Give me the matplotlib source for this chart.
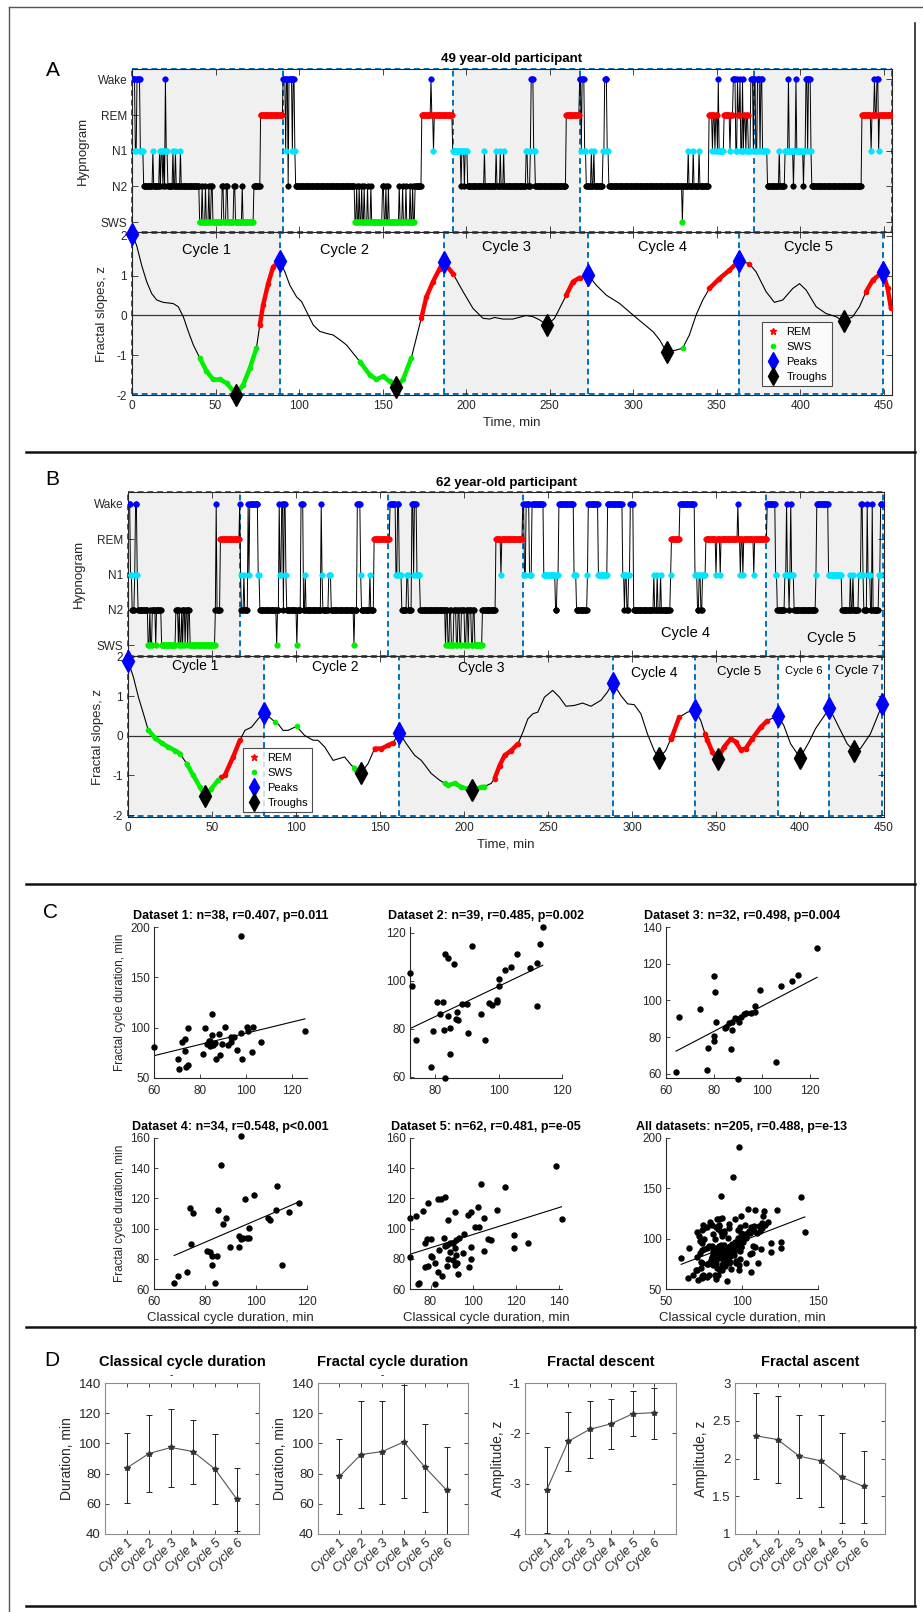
"""
Hypnograms, fractal-slope cycles and cycle statistics (4-panel figure)
"""
import matplotlib
matplotlib.use('Agg')
import matplotlib.pyplot as plt
import matplotlib.font_manager as fm
from matplotlib.patches import Rectangle
from matplotlib.lines import Line2D
import numpy as np

names = {f.name for f in fm.fontManager.ttflist}
NARROW = 'Liberation Sans Narrow' if 'Liberation Sans Narrow' in names else 'Liberation Sans'
REG = 'Liberation Sans'
plt.rcParams['font.family'] = [NARROW, 'DejaVu Sans']
plt.rcParams['axes.unicode_minus'] = False
TXT = '#262626'

# ---------------- data: panel A (49 year-old) ----------------
# hypnogram as (start minute, stage)
hyp_a = [(0, 'W'), (2, 'N1'), (3, 'W'), (5, 'N1'), (7, 'N2'), (12.5, 'N1'), (13, 'N2'), (16.5, 'N1'),
         (17, 'N2'), (17.5, 'N1'), (18.5, 'N2'), (19, 'N1'), (19.5, 'N2'), (20, 'W'), (20.5, 'N1'),
         (21.5, 'N2'), (24.5, 'N1'), (25, 'N2'), (26, 'N1'), (26.5, 'N2'), (29, 'N1'), (29.5, 'N2'),
         (40.5, 'S'), (42, 'N2'), (42.5, 'S'), (44, 'N2'), (44.5, 'S'), (46, 'N2'), (46.5, 'S'),
         (47.5, 'N2'), (48.5, 'S'), (54, 'N2'), (55, 'S'), (56.5, 'N2'), (57.5, 'S'), (61, 'N2'),
         (62, 'S'), (66, 'N2'), (66.5, 'S'), (73, 'N2'), (77, 'R'),
         (90.5, 'W'), (92, 'N1'), (92.5, 'W'), (93.5, 'N2'), (94, 'W'), (96, 'N1'), (96.5, 'W'),
         (97.5, 'N1'), (98, 'N2'),
         (133.5, 'S'), (134.5, 'N2'), (135, 'S'), (136, 'N2'), (136.5, 'S'), (137.5, 'N2'), (138, 'S'),
         (139, 'N2'), (139.5, 'S'), (141, 'N2'), (141.5, 'S'), (143, 'N2'), (143.5, 'S'), (150, 'N2'),
         (151, 'S'), (152, 'N2'), (152.5, 'S'), (153.5, 'N2'), (154, 'S'), (160, 'N2'), (160.5, 'S'),
         (162, 'N2'), (162.5, 'S'), (164, 'N2'), (164.5, 'S'), (166.5, 'N2'), (167, 'S'), (168, 'N2'),
         (168.5, 'S'), (169.5, 'N2'),
         (173.5, 'R'), (179, 'W'), (179.5, 'R'), (180.5, 'N1'), (181, 'R'), (192, 'N1'), (197, 'N2'),
         (197.5, 'N1'), (199, 'N2'), (199.5, 'N1'), (201, 'N2'), (211, 'N1'), (211.5, 'N2'),
         (218, 'N1'), (218.5, 'N2'), (220.5, 'N1'), (221, 'N2'), (222.5, 'N1'), (223, 'N2'),
         (236, 'N1'), (237, 'N2'), (238.5, 'N1'), (239, 'W'), (240.5, 'N1'), (241.5, 'N2'), (260, 'R'),
         (268, 'W'), (269, 'N1'), (269.5, 'W'), (271, 'N1'), (272, 'N2'), (275, 'N1'), (275.5, 'N2'),
         (276.5, 'N1'), (277, 'N2'), (282, 'N1'), (283, 'W'), (284.5, 'N1'), (285.5, 'N2'),
         (329.5, 'S'), (330, 'N2'), (333, 'N1'), (333.5, 'N2'), (336, 'N1'), (336.5, 'N2'),
         (339.5, 'N1'), (340, 'N2'),
         (345.5, 'R'), (347.5, 'N1'), (348, 'R'), (349, 'N1'), (349.5, 'R'), (350.5, 'N1'), (351, 'W'),
         (351.5, 'N1'), (354.5, 'R'), (358, 'N1'), (358.5, 'R'), (360, 'W'), (361.5, 'N1'), (362.5, 'W'),
         (363, 'R'), (364, 'W'), (364.5, 'N1'), (365.5, 'W'), (366, 'N1'), (366.5, 'R'), (367.5, 'N1'),
         (368, 'R'), (369, 'N1'), (370.5, 'W'), (372, 'N1'), (372.5, 'W'), (373.5, 'N1'), (374.5, 'W'),
         (376, 'N1'), (376.5, 'W'), (377.5, 'N1'),
         (380.5, 'N2'), (387.5, 'N1'), (388, 'N2'), (391, 'N1'), (393, 'W'), (393.5, 'N1'), (396, 'N2'),
         (396.5, 'N1'), (397.5, 'W'), (398, 'N1'), (402, 'N2'), (402.5, 'N1'), (403.5, 'W'),
         (404.5, 'N1'), (405, 'W'), (406.5, 'N1'), (407, 'N2'),
         (437, 'R'), (442.5, 'N1'), (443, 'R'), (444.5, 'W'), (445, 'R'), (446, 'W'), (447, 'N1'),
         (447.5, 'R')]
hyp_a_end = 455
hyp_a_cycles = [0, 90.5, 192.3, 268, 372.6, 455]

# fractal slope curve as (minute, z)
curve_a = [(0, 2.05), (2.8, 1.76), (5.8, 1.26), (8.8, 0.85), (11.8, 0.55), (14.8, 0.39), (18.7, 0.33),
           (24.7, 0.30), (27.7, 0.22), (30.7, -0.03), (33.7, -0.40), (36.7, -0.74), (40.6, -1.07),
           (44.6, -1.40), (48.6, -1.61), (52.6, -1.61), (56.6, -1.70), (62.5, -1.99), (66.6, -1.74),
           (70.6, -1.32), (74.5, -0.82), (76.5, -0.24), (78.5, 0.26), (81.5, 0.80), (84.5, 1.22),
           (88.5, 1.38), (91.5, 1.10), (94.5, 0.76), (98.5, 0.47), (101.5, 0.35), (104.5, 0.10),
           (108.5, -0.24), (112.4, -0.40), (116.4, -0.45), (120.4, -0.49), (124.4, -0.61),
           (128.4, -0.74), (132.4, -0.95), (136.4, -1.16), (142.3, -1.49), (146.3, -1.61),
           (150.3, -1.53), (154.3, -1.66), (158, -1.80), (162.3, -1.61), (167.2, -1.07),
           (170.2, -0.57), (173.2, -0.07), (176.2, 0.46), (180.2, 0.85), (184.2, 1.18), (186.5, 1.35),
           (192.2, 1.05), (198.2, 0.60), (204.1, 0.18), (210.1, -0.07), (214.1, -0.09), (217.1, -0.05),
           (222, -0.09), (228, -0.09), (236, 0.0), (240, -0.03), (244, -0.11), (248.5, -0.24),
           (253, -0.07), (256, 0.18), (260, 0.51), (264, 0.85), (268, 0.95), (273, 1.02), (278, 0.76),
           (284, 0.51), (292, 0.30), (300, 0.01), (306, -0.20), (312, -0.41), (316, -0.62),
           (320, -0.92), (325.7, -0.87), (329.7, -0.82), (333.7, -0.49), (337.7, 0.01), (341.7, 0.39),
           (345.7, 0.68), (351.7, 0.93), (357.7, 1.14), (363.5, 1.38), (369.6, 1.30), (373.6, 1.10),
           (379.6, 0.60), (384.6, 0.33), (389.6, 0.39), (395.6, 0.68), (399.6, 0.80), (403.6, 0.64),
           (409.6, 0.22), (415.5, 0.05), (421.5, -0.03), (426, -0.15), (431.5, -0.03), (435.5, 0.22),
           (439.5, 0.60), (443.5, 0.89), (449.5, 1.10), (452.4, 0.68), (454.4, 0.18)]
rem_a = [(76.5, 88.5), (173.2, 192.2), (259, 268), (345, 363.5), (369.6, 369.6), (438, 455)]
sws_a = [(40.5, 74.5), (133, 169), (329.7, 329.7)]
peaks_a = [(0, 2.05), (88.5, 1.38), (186.5, 1.35), (273, 1.02), (363.5, 1.38), (449.5, 1.10)]
troughs_a = [(62.5, -2.0), (158, -1.80), (248.5, -0.24), (320, -0.92), (426, -0.15)]
cycle_lbl_a = [('Cycle 1', 44.5, 1.64), ('Cycle 2', 127, 1.64), ('Cycle 3', 224, 1.72),
               ('Cycle 4', 317.5, 1.72), ('Cycle 5', 405, 1.72)]

# ---------------- data: panel B (62 year-old) ----------------
hyp_b = [(0, 'W'), (1.5, 'N1'), (2.5, 'N2'), (4, 'N1'), (4.5, 'W'), (5.5, 'N1'), (6, 'N2'), (12, 'S'),
         (13, 'N2'), (13.5, 'S'), (14.5, 'N2'), (16.5, 'S'), (17, 'N2'), (20, 'S'), (28.5, 'N2'),
         (30, 'S'), (30.5, 'N2'), (31, 'S'), (32, 'N2'), (32.5, 'S'), (33, 'N2'), (34, 'S'),
         (34.5, 'N2'), (35.5, 'S'), (36, 'N2'), (37, 'S'), (52, 'N2'), (52.5, 'W'), (53, 'N2'), (55, 'R'),
         (66.5, 'W'), (67, 'N1'), (67.5, 'N2'), (69, 'N1'), (69.5, 'N2'), (71.5, 'W'), (72, 'N1'),
         (72.5, 'W'), (77.5, 'N1'), (78.5, 'N2'), (88.5, 'S'), (89, 'N2'), (90, 'W'), (90.5, 'N1'),
         (91.5, 'W'), (92.5, 'N2'), (93, 'W'), (94, 'N1'), (94.5, 'N2'), (100.5, 'S'), (101, 'N2'),
         (103, 'W'), (104.5, 'N2'), (105.5, 'N1'), (106, 'N2'), (115, 'W'), (115.5, 'N1'), (116, 'N2'),
         (119.5, 'N1'), (121, 'N2'), (134.5, 'S'), (135, 'N2'), (136.5, 'W'), (138.5, 'N1'), (139, 'N2'),
         (144, 'N1'), (144.5, 'N2'), (146.5, 'R'),
         (156, 'W'), (159.5, 'N1'), (160.5, 'W'), (161.5, 'N1'), (163, 'N2'), (166, 'N1'), (167, 'N2'),
         (169, 'W'), (170, 'N1'), (170.5, 'W'), (172, 'N1'), (174, 'N2'), (189, 'S'), (189.5, 'N2'),
         (190.5, 'S'), (191.5, 'N2'), (192.5, 'S'), (194, 'N2'), (195.5, 'S'), (196.5, 'N2'),
         (197.5, 'S'), (198.5, 'N2'), (200.5, 'S'), (201.5, 'N2'), (202.5, 'S'), (203, 'N2'),
         (204.5, 'S'), (205.5, 'N2'), (206.5, 'S'), (211, 'N2'), (219, 'R'), (222, 'N1'), (222.5, 'R'),
         (235, 'W'), (236, 'N1'), (237, 'W'), (239, 'N1'), (240.5, 'W'), (247.5, 'N1'), (254.5, 'N2'),
         (255.5, 'N1'), (256.5, 'W'), (265.5, 'N1'), (267, 'N2'), (273.5, 'N1'), (274, 'W'), (280, 'N1'),
         (285.5, 'W'), (294.5, 'N1'), (295.5, 'N2'), (296, 'N1'), (297, 'N2'), (298, 'N1'), (299, 'W'),
         (301, 'N2'), (313, 'N1'), (313.5, 'N2'), (315, 'N1'), (315.5, 'N2'), (317, 'N1'), (317.5, 'N2'),
         (323, 'N1'), (323.5, 'R'), (328.5, 'W'), (337.5, 'N1'), (339, 'N2'), (340, 'N1'), (341, 'N2'),
         (342, 'N1'), (344, 'R'), (350, 'N1'), (350.5, 'R'), (352.5, 'N1'), (353, 'R'), (363, 'W'),
         (363.5, 'R'), (364.5, 'N1'), (365, 'R'), (366, 'N1'), (366.5, 'R'), (372.5, 'N1'), (373, 'R'),
         (380.5, 'W'), (385.5, 'N1'), (386.5, 'N2'), (391, 'N1'), (392, 'W'), (392.5, 'N1'),
         (393.5, 'N2'), (394, 'N1'), (394.5, 'W'), (395, 'N1'), (396.5, 'N2'), (409.5, 'N1'),
         (410, 'W'), (417, 'N1'), (425, 'N2'), (430, 'N1'), (430.5, 'N2'), (431.5, 'N1'), (432, 'N2'),
         (435, 'N1'), (436.5, 'W'), (437.5, 'N1'), (438, 'N2'), (440, 'W'), (440.5, 'N1'), (442, 'N2'),
         (443, 'W'), (443.5, 'N2'), (447, 'N1'), (448, 'W')]
hyp_b_end = 449.5
hyp_b_cycles = [0, 66.6, 154.8, 235, 379.7, 449.6]
hyp_b_lbl = [('Cycle 4', 332, 1.33), ('Cycle 5', 419, 1.21)]

curve_b = [(0, 1.90), (3.2, 1.49), (6.2, 0.98), (9.2, 0.56), (12, 0.15), (16.1, -0.05), (20, -0.18),
           (24, -0.28), (28, -0.37), (31, -0.45), (34.9, -0.70), (38.9, -1.0), (42.8, -1.29),
           (46, -1.53), (49.7, -1.33), (53.7, -1.12), (55.6, -1.05), (57.6, -1.0), (62.6, -0.53),
           (66.6, -0.11), (69.6, 0.14), (73.5, 0.22), (77.5, 0.43), (81, 0.58), (85.4, 0.43),
           (87.5, 0.35), (89.4, 0.30), (92.3, 0.14), (95.3, 0.14), (100.3, 0.24), (105.2, 0.01),
           (110.2, -0.11), (113.1, -0.11), (117.1, -0.28), (122.1, -0.62), (128.9, -0.53),
           (132.9, -0.74), (134.6, -0.80), (136, -0.85), (138.5, -0.95), (142.9, -0.70), (146.8, -0.32),
           (150.8, -0.32), (154.8, -0.24), (157.7, -0.18), (161.5, 0.08), (165.7, -0.20), (170.6, -0.49),
           (174.6, -0.62), (180.5, -0.95), (185.5, -1.12), (188.5, -1.20), (190.4, -1.25),
           (194.4, -1.20), (198.4, -1.29), (204.5, -1.37), (210.3, -1.30), (212.2, -1.28),
           (216.2, -1.20), (218.2, -1.08), (221.2, -0.75), (224.2, -0.49), (228.1, -0.37),
           (232.1, -0.20), (235.1, 0.10), (238, 0.43), (241, 0.56), (243.9, 0.60), (247.9, 0.98),
           (252.8, 1.15), (256.8, 0.98), (260.7, 0.75), (265.7, 0.77), (270.6, 0.83), (275.6, 0.75),
           (281.5, 0.90), (285.4, 1.11), (288.5, 1.35), (293.4, 1.02), (297.4, 0.81), (301.3, 0.79),
           (305.3, 0.56), (309.2, 0.05), (313.2, -0.37), (316, -0.57), (320.1, -0.37), (323, -0.08),
           (324.1, 0.01), (328.1, 0.47), (333, 0.60), (337.5, 0.65), (340.9, 0.39), (343.5, 0.05),
           (344.9, -0.11), (347.9, -0.41), (351, -0.58), (354.8, -0.28), (358.8, -0.07),
           (361.7, -0.15), (364.7, -0.35), (367.7, -0.32), (371.6, -0.07), (376.6, 0.22),
           (380.5, 0.38), (381.5, 0.41), (387, 0.50), (390.4, 0.26), (394.4, -0.20), (400, -0.55),
           (405.3, -0.16), (409.2, 0.18), (413.2, 0.43), (417.5, 0.70), (422.1, 0.31), (428.1, -0.20),
           (432, -0.37), (436, -0.32), (441.9, 0.05), (445.9, 0.47), (449, 0.80)]
rem_b = [(55.6, 66.6), (146.8, 157.7), (218, 235), (323, 328.1), (343.5, 380.5)]
sws_b = [(12, 31), (34.9, 53.7), (87.5, 87.5), (100.3, 100.3), (134.6, 136), (188.5, 212.2)]
peaks_b = [(0, 1.90), (81, 0.58), (161.5, 0.08), (288.5, 1.35), (337.5, 0.65), (387, 0.50),
           (417.5, 0.70), (449, 0.80)]
troughs_b = [(46, -1.53), (138.5, -0.95), (204.5, -1.37), (316, -0.57), (351, -0.58), (400, -0.55),
             (432, -0.37)]
cycle_lbl_b = [('Cycle 1', 40, 1.76, 10), ('Cycle 2', 123.5, 1.74, 10), ('Cycle 3', 210, 1.72, 10),
               ('Cycle 4', 313, 1.59, 10), ('Cycle 5', 364, 1.61, 9.5), ('Cycle 6', 402.5, 1.63, 8),
               ('Cycle 7', 434, 1.65, 9.5)]

# ---------------- data: panel C (classical vs fractal cycle duration) ----------------
d1_x = [60, 97.8, 70.5, 71, 72.3, 73.5, 73.3, 73.8, 74.8, 74.8, 81.2, 82.2, 83, 83.7, 84.5, 85, 85,
        84.5, 85.5, 87.1, 88.1, 88.9, 89.4, 91, 92, 93.4, 94.7, 95.9, 97.8, 98.3, 100.3, 100.8, 102.4,
        102.9, 106.7, 125.6, 86.3, 93.4]
d1_y = [80.3, 190.8, 68.8, 59.2, 85.6, 88.6, 77.0, 60.9, 62.5, 100.1, 74.1, 99.4, 84.0, 86.3, 87.2,
        113.3, 92.9, 81.3, 82.9, 69.1, 93.8, 72.4, 83.6, 101.1, 82.3, 85.6, 90.5, 78.0, 94.5, 69.1,
        101.1, 96.8, 75.7, 101.1, 85.6, 97.1, 84.7, 91.2]
d2_x = [72, 72.6, 74, 78.5, 79.4, 80.6, 81.5, 82.4, 82.8, 83.2, 83.2, 84.1, 84.1, 84.7, 84.7, 86, 86.5,
        86.9, 87.1, 88.4, 89.9, 90.2, 91.7, 94.5, 95.8, 97.1, 97.9, 99.5, 99.5, 100.1, 100.1, 102,
        103.8, 105.7, 109.8, 112, 112.2, 113.1, 113.9]
d2_y = [103.1, 97.9, 75.5, 64.2, 79.2, 91.1, 86.1, 91.1, 79.4, 111.2, 59.6, 109.4, 85.5, 80.3, 69.6,
        106.9, 84.2, 87.2, 83.8, 90.3, 90.3, 78.3, 114.5, 86.3, 75.5, 90.7, 90.0, 91.4, 92.1, 97.9,
        100.7, 104.5, 105.9, 111.4, 105.2, 107.6, 89.7, 115.6, 122.5]
d3_x = [64.2, 65.4, 74, 77.2, 77.7, 80.1, 80.1, 80.1, 80.6, 80.9, 84.5, 86.3, 87, 87.5, 87.5, 88.7,
        89.9, 89.9, 90.7, 91.2, 92.4, 93.6, 95.6, 97.3, 97.3, 99.3, 105.9, 107.9, 112.8, 115, 123.1, 85]
d3_y = [61.1, 90.9, 95.4, 62, 74.4, 113.5, 80.4, 78.1, 104.4, 88.2, 84.9, 87.6, 73.7, 84, 88.2, 90.3,
        89.8, 57.5, 88.5, 91.2, 92.7, 93.4, 93, 97.2, 93.6, 105.7, 66.5, 108, 110.7, 113.8, 128.3, 85.8]
d4_x = [94.0, 86.3, 74.2, 75.3, 85.1, 88.1, 87.0, 95.6, 99.1, 108.4, 105.3, 104.9, 97.2, 93.3, 94.0,
        94.9, 96.3, 97.4, 89.8, 93.3, 74.7, 107.9, 113.0, 116.9, 82.0, 82.9, 84.8, 82.9, 73.0, 69.5,
        67.9, 84.1, 110.2, 80.9]
d4_y = [161.1, 142.4, 113.5, 110.2, 112.4, 107.3, 102.9, 119.5, 122.2, 128.0, 105.8, 106.7, 100.6,
        95.1, 93.3, 94.0, 93.6, 94.0, 87.7, 87.7, 90.0, 112.4, 110.7, 116.7, 84.4, 81.7, 82.0, 75.7,
        71.3, 68.9, 64.0, 64.0, 76.2, 85.1]
d5_x = [138.6, 141.3, 70.4, 73.4, 76.7, 78.9, 83.6, 85, 86.9, 88.3, 91.3, 97.3, 98.7, 102, 103.7, 104.8,
        100.6, 102.8, 107, 108.3, 111.1, 114.7, 118.8, 118.8, 125.4, 77.2, 78.4, 80.3, 86.3, 87.7,
        89.1, 90.5, 91.8, 93.2, 95.4, 91.3, 86.9, 70.4, 80, 78.6, 77.2, 80.8, 83.6, 85.5, 74.5, 74,
        82.2, 87.7, 91.3, 91.8, 98.7, 97.9, 92.4, 90.5, 89.1, 84, 95, 99, 82, 88, 93, 105]
d5_y = [141.3, 106.3, 106.7, 108.4, 111.5, 117, 119.4, 119.4, 121, 106, 110.7, 109, 111.2, 114, 129.3,
        107.3, 101.2, 101.2, 93.1, 92.2, 112.6, 127.5, 95.7, 87, 90.3, 90.7, 92.8, 93, 94, 89.2, 90.3,
        90.3, 92.2, 93.7, 96.2, 87, 88.3, 81.5, 81.8, 75.5, 74.8, 81.5, 71, 68.8, 64, 63, 63.5, 75.5,
        76, 82.4, 79.8, 74.3, 77.1, 79.3, 84.7, 86, 84, 88, 77, 80, 70, 85]
scatter_titles = ['Dataset 1: n=38, r=0.407, p=0.011', 'Dataset 2: n=39, r=0.485, p=0.002',
                  'Dataset 3: n=32, r=0.498, p=0.004', 'Dataset 4: n=34, r=0.548, p<0.001',
                  'Dataset 5: n=62, r=0.481, p=e-05', 'All datasets: n=205, r=0.488, p=e-13']

# ---------------- data: panel D (per-cycle mean and error bounds) ----------------
cycle_names = ['Cycle 1', 'Cycle 2', 'Cycle 3', 'Cycle 4', 'Cycle 5', 'Cycle 6']
class_mean = [83.8, 93.3, 97.3, 94.6, 83.0, 62.9]
class_lo = [60.3, 67.5, 71.1, 72.8, 59.6, 42.0]
class_hi = [106.7, 119.1, 123.0, 115.6, 106.0, 83.4]
fdur_mean = [78.1, 92.6, 94.6, 101.0, 84.1, 69.1]
fdur_lo = [53.0, 57.0, 60.0, 63.6, 54.3, 40.0]
fdur_hi = [103.2, 128.1, 128.1, 138.5, 113.1, 97.3]
desc_mean = [-3.13, -2.16, -1.92, -1.81, -1.61, -1.59]
desc_lo = [-3.99, -2.75, -2.49, -2.32, -2.06, -2.11]
desc_hi = [-2.28, -1.575, -1.36, -1.31, -1.16, -1.09]
asc_mean = [2.30, 2.25, 2.03, 1.97, 1.75, 1.63]
asc_lo = [1.73, 1.68, 1.48, 1.36, 1.15, 1.15]
asc_hi = [2.87, 2.83, 2.57, 2.58, 2.34, 2.10]

# ---------------- figure ----------------
W, H = 923, 1612
fig = plt.figure(figsize=(W / 100, H / 100), dpi=100)


def add_ax(l, t, r, b):
    return fig.add_axes([l / W, 1 - b / H, (r - l) / W, (b - t) / H])


def fig_line(x0, y0, x1, y1, lw=1.0, color='k'):
    fig.add_artist(Line2D([x0 / W, x1 / W], [1 - y0 / H, 1 - y1 / H], transform=fig.transFigure,
                          color=color, lw=lw))


STAGE_Y = {'W': 5, 'R': 4, 'N1': 3, 'N2': 2, 'S': 1}
STAGE_C = {'W': '#0000ff', 'R': '#ff0000', 'N1': '#00e5ff', 'N2': '#000000', 'S': '#00ee00'}
BOX_C = '#0072bd'
DASH = (0, (3, 2))


def draw_boxes(ax, edges, y0, y1):
    # grey fill on odd cycles, one dashed outline per cycle boundary
    for i in range(len(edges) - 1):
        if i % 2 == 0:
            ax.add_patch(Rectangle((edges[i], y0), edges[i + 1] - edges[i], y1 - y0,
                                   facecolor='#f0f0f0', edgecolor='none', zorder=1))
    ax.vlines(edges, y0, y1, colors=BOX_C, linestyles=DASH, lw=1.4, zorder=1.5, clip_on=False)
    ax.hlines([y0, y1], edges[0], edges[-1], colors=BOX_C, linestyles=DASH, lw=1.4, zorder=1.5,
              clip_on=False)


def style_box(ax):
    for s in ax.spines.values():
        s.set_color(TXT)
        s.set_linewidth(0.8)
    ax.tick_params(direction='in', top=True, right=True, length=4, width=0.6,
                   colors=TXT, labelsize=8.5)


def draw_hyp(ax, segs, t_end, edges, ylim, xlim):
    starts = np.array([s[0] for s in segs])
    codes = np.array([STAGE_Y[s[1]] for s in segs])
    labels = np.array([s[1] for s in segs])
    t = np.arange(0, t_end, 0.5)
    idx = np.searchsorted(starts, t, side='right') - 1
    y = codes[idx]
    st = labels[idx]
    draw_boxes(ax, edges, ylim[0], ylim[1])
    ax.plot(t, y, color='k', lw=0.7, zorder=2)
    for key, col in STAGE_C.items():
        m = st == key
        ax.scatter(t[m], y[m], s=16, color=col, edgecolors=col, linewidths=0.4, zorder=3)
    ax.set_xlim(*xlim)
    ax.set_ylim(*ylim)
    ax.set_yticks([1, 2, 3, 4, 5])
    ax.set_yticklabels(['SWS', 'N2', 'N1', 'REM', 'Wake'])
    ax.set_xticks(np.arange(0, 451, 50))
    ax.set_xticklabels([])
    style_box(ax)
    ax.set_ylabel('Hypnogram', family=REG, fontsize=9.5, color=TXT, labelpad=6)


def draw_frac(ax, curve, rem, sws, peaks, troughs, ylim, xlim, legend_xy):
    t, v = np.array(curve).T
    pt = [p[0] for p in peaks]
    draw_boxes(ax, pt, ylim[0] + 0.03, ylim[1] - 0.03)
    ax.axhline(0, color='#333333', lw=0.9, zorder=2)
    ax.plot(t, v, color='k', lw=0.8, zorder=3)
    for spans, col in ((rem, '#ff0000'), (sws, '#00ee00')):
        for a, b in spans:
            m = (t >= a - 0.01) & (t <= b + 0.01)
            ax.plot(t[m], v[m], color=col, lw=3.2, marker='o', ms=3, solid_capstyle='round',
                    zorder=4)
    px, py = np.array(peaks).T
    tx, ty = np.array(troughs).T
    ax.plot(px, py, 'd', color='#0000ff', ms=11, zorder=5, clip_on=False)
    ax.plot(tx, ty, 'd', color='k', ms=11, zorder=5, clip_on=False)
    ax.set_xlim(*xlim)
    ax.set_ylim(*ylim)
    ax.set_yticks([-2, -1, 0, 1, 2])
    ax.set_xticks(np.arange(0, 451, 50))
    style_box(ax)
    ax.set_ylabel('Fractal slopes, z', family=REG, fontsize=9.5, color=TXT, labelpad=6)
    ax.set_xlabel('Time, min', fontsize=9.5, color=TXT, labelpad=3)
    hs = [Line2D([], [], ls='', marker='*', color='#ff0000', ms=5),
          Line2D([], [], ls='', marker='.', color='#00ee00', ms=6),
          Line2D([], [], ls='', marker='d', color='#0000ff', ms=9),
          Line2D([], [], ls='', marker='d', color='k', ms=9)]
    leg = ax.legend(hs, ['REM', 'SWS', 'Peaks', 'Troughs'], loc='lower left',
                    bbox_to_anchor=legend_xy, borderaxespad=0, fontsize=8, frameon=True,
                    fancybox=False, handlelength=1.2, handletextpad=0.6, labelspacing=0.45,
                    borderpad=0.4)
    leg.get_frame().set_edgecolor('#222222')
    leg.get_frame().set_linewidth(0.8)
    leg.set_zorder(10)


# ---- panel A ----
axh = add_ax(132, 69, 892, 232)
draw_hyp(axh, hyp_a, hyp_a_end, hyp_a_cycles, (0.72, 5.29), (0, 455))
axh.set_title('49 year-old participant', fontsize=9.5, fontweight='bold', pad=5)
axf = add_ax(132, 232, 892, 395)
draw_frac(axf, curve_a, rem_a, sws_a, peaks_a, troughs_a, (-2.0, 2.1), (0, 455), (0.829, 0.055))
for lbl, x, y in cycle_lbl_a:
    axf.text(x, y, lbl, ha='center', va='center', fontsize=10.5, color='k', zorder=6)

# ---- panel B ----
bxh = add_ax(128, 492, 884, 656)
draw_hyp(bxh, hyp_b, hyp_b_end, hyp_b_cycles, (0.69, 5.34), (0, 449.5))
bxh.set_title('62 year-old participant', fontsize=9.5, fontweight='bold', pad=4)
for lbl, x, y in hyp_b_lbl:
    bxh.text(x, y, lbl, ha='center', va='center', fontsize=10.5, color='k', zorder=6)
bxf = add_ax(128, 656, 884, 817)
draw_frac(bxf, curve_b, rem_b, sws_b, peaks_b, troughs_b, (-2.05, 2.02), (0, 449.5), (0.152, 0.031))
for lbl, x, y, fs in cycle_lbl_b:
    bxf.text(x, y, lbl, ha='center', va='center', fontsize=fs, color='k', zorder=6)

# ---- panel C ----
sets_x = [d1_x, d2_x, d3_x, d4_x, d5_x, d1_x + d2_x + d3_x + d4_x + d5_x]
sets_y = [d1_y, d2_y, d3_y, d4_y, d5_y, d1_y + d2_y + d3_y + d4_y + d5_y]
c_cols = [(154, 307), (410, 562), (666, 818)]
c_rows = [(927, 1078), (1138, 1289)]
c_xlim = [(60, 126.5), (72, 120), (60, 123.5), (60, 120), (70.4, 141.4), (50, 150)]
c_ylim = [(50, 200), (59.5, 122.5), (57.8, 140), (60, 160), (60, 160), (50, 200)]
c_xticks = [[60, 80, 100, 120], [80, 100, 120], [60, 80, 100, 120], [60, 80, 100, 120],
            [80, 100, 120, 140], [50, 100, 150]]
c_yticks = [[50, 100, 150, 200], [60, 80, 100, 120], [60, 80, 100, 120, 140],
            [60, 80, 100, 120, 140, 160], [60, 80, 100, 120, 140, 160], [50, 100, 150, 200]]
for k in range(6):
    r, c = divmod(k, 3)
    ax = add_ax(c_cols[c][0], c_rows[r][0], c_cols[c][1], c_rows[r][1])
    x = np.array(sets_x[k])
    y = np.array(sets_y[k])
    ax.plot(x, y, 'o', color='k', ms=3.6, zorder=3, clip_on=False)
    slope, icpt = np.polyfit(x, y, 1)
    xx = np.array([x.min(), x.max()])
    ax.plot(xx, slope * xx + icpt, color='k', lw=0.8, zorder=2)
    ax.set_xlim(*c_xlim[k])
    ax.set_ylim(*c_ylim[k])
    ax.set_xticks(c_xticks[k])
    ax.set_yticks(c_yticks[k])
    for s in ('top', 'right'):
        ax.spines[s].set_visible(False)
    for s in ('left', 'bottom'):
        ax.spines[s].set_color(TXT)
        ax.spines[s].set_linewidth(0.8)
    ax.tick_params(direction='in', length=3, width=0.6, colors=TXT, labelsize=8.5)
    ax.tick_params(axis='x', pad=5)
    ax.tick_params(axis='y', pad=3)
    ax.set_title(scatter_titles[k], fontsize=9, fontweight='bold', pad=6)
    if c == 0:
        ax.set_ylabel('Fractal cycle duration, min', family=REG, fontsize=8.5, color=TXT,
                      labelpad=3)
    if r == 1:
        ax.set_xlabel('Classical cycle duration, min', fontsize=9.5, color=TXT, labelpad=3)

# ---- panel D ----
d_cols = [(105, 259), (318, 468), (525, 676), (735, 885)]
d_sets = [(class_mean, class_lo, class_hi), (fdur_mean, fdur_lo, fdur_hi),
          (desc_mean, desc_lo, desc_hi), (asc_mean, asc_lo, asc_hi)]
d_titles = ['Classical cycle duration', 'Fractal cycle duration', 'Fractal descent', 'Fractal ascent']
d_ylabels = ['Duration, min', 'Duration, min', 'Amplitude, z', 'Amplitude, z']
d_ylim = [(40, 140), (40, 140), (-4, -1), (1, 3)]
d_yticks = [[40, 60, 80, 100, 120, 140], [40, 60, 80, 100, 120, 140], [-4, -3, -2, -1],
            [1, 1.5, 2, 2.5, 3]]
d_yticklabels = [['40', '60', '80', '100', '120', '140'], ['40', '60', '80', '100', '120', '140'],
                 ['-4', '-3', '-2', '-1'], ['1', '1.5', '2', '2.5', '3']]
pos = np.arange(1, 7)
for k in range(4):
    ax = add_ax(d_cols[k][0], 1383, d_cols[k][1], 1534)
    mean, lo, hi = (np.array(a) for a in d_sets[k])
    ax.errorbar(pos, mean, yerr=[mean - lo, hi - mean], color='#555555', ecolor='#222222',
                elinewidth=0.7, capsize=2.5, capthick=0.7, lw=0.8, marker='*', ms=4, mfc='#333333',
                mec='#333333', clip_on=False)
    ax.set_xlim(0, 7)
    ax.set_ylim(*d_ylim[k])
    ax.set_yticks(d_yticks[k])
    ax.set_yticklabels(d_yticklabels[k])
    ax.set_xticks(pos)
    ax.set_xticklabels(cycle_names, rotation=45, ha='right', rotation_mode='anchor',
                       fontsize=9, style='italic')
    for s in ax.spines.values():
        s.set_color('#8c8c8c')
        s.set_linewidth(0.8)
    ax.tick_params(direction='in', top=True, right=True, length=3, width=0.6, colors='#262626',
                   labelsize=9.5, pad=3)
    ax.tick_params(axis='x', pad=2, labelsize=9)
    ax.set_title(d_titles[k], fontsize=10.5, fontweight='bold', pad=12)
    ax.set_ylabel(d_ylabels[k], family=REG, fontsize=10, color=TXT, labelpad=3)
    if k < 2:
        ax.text(3, d_ylim[k][1] + 1.8, '-', ha='center', va='bottom', fontsize=7, clip_on=False)

# ---- panel letters and frame ----
for letter, x, y in (('A', 53, 70), ('B', 52, 480), ('C', 50, 912), ('D', 52, 1360)):
    fig.text(x / W, 1 - y / H, letter, fontsize=15, ha='center', va='center', color='k')

fig_line(9, 7, 923, 7, lw=1.0, color='#555555')
fig_line(9, 7, 9, 1612, lw=1.0, color='#555555')
fig_line(915, 23, 915, 1606, lw=1.2, color='#222222')
for yy in (452, 884, 1327, 1606):
    fig_line(26, yy, 915, yy, lw=1.8, color='#111111')

fig.savefig('out.png', dpi=100)
